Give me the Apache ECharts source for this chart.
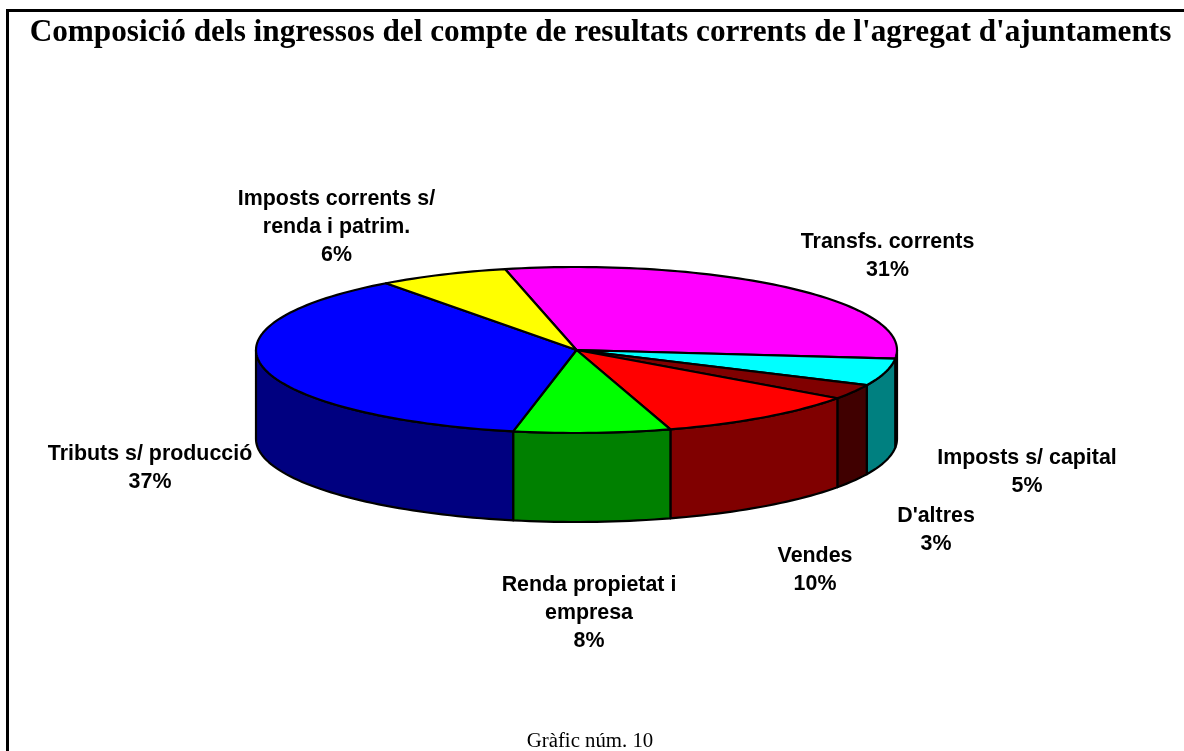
<!DOCTYPE html>
<html>
<head>
<meta charset="utf-8">
<script src="https://cdn.jsdelivr.net/npm/echarts@6/dist/echarts.min.js"></script>
<style>html,body{margin:0;padding:0;background:#fff}#chart{width:1184px;height:751px}</style>
</head>
<body>
<div id="chart"></div>
<script>
// Data
const titleText = "Composició dels ingressos del compte de resultats corrents de l'agregat d'ajuntaments";
const footerText = "Gràfic núm. 10";
const categories = ["Transfs. corrents", "Imposts s/ capital", "D'altres", "Vendes", "Renda propietat i\nempresa", "Tributs s/ producció", "Imposts corrents s/\nrenda i patrim."];
// Printed percentages
const percentLabels = [31, 5, 3, 10, 8, 37, 6];
// Share of the pie each slice occupies as drawn (estimated from the slice boundaries)
const sliceShares = [30.25, 5.3, 2.9, 10.4, 7.9, 36.7, 6.55];

// Styles and layout, kept apart from the data
const topColors = ["#ff00ff", "#00ffff", "#800000", "#ff0000", "#00ff00", "#0000ff", "#ffff00"];
const wallColors = ["#800080", "#008080", "#400000", "#800000", "#008000", "#000080", "#808000"];
const labelCentres = [[887.5, 256], [1027, 472], [936, 530], [815, 570], [589, 613], [150, 468], [336.5, 227]];
const pie = { cx: 576.5, cy: 350, rx: 320.5, ry: 83, depth: 89, startAngle: 102.9 };

const total = sliceShares.reduce((a, b) => a + b, 0);
const boundaries = [pie.startAngle];
sliceShares.forEach((v, i) => boundaries.push(boundaries[i] - v / total * 360));

function rimPoint(deg, dy) {
  const t = deg * Math.PI / 180;
  return [pie.cx + pie.rx * Math.cos(t), pie.cy - pie.ry * Math.sin(t) + (dy || 0)];
}
function arcPoints(from, to, dy) {
  const pts = [], n = Math.max(2, Math.ceil(Math.abs(from - to) / 1.5));
  for (let k = 0; k <= n; k++) pts.push(rimPoint(from + (to - from) * k / n, dy));
  return pts;
}
function wallRange(a0, a1) {
  const hi = Math.min(a0, 0), lo = Math.max(a1, -180);
  return hi > lo ? [hi, lo] : null;
}

function renderSlice(params, api) {
  const i = params.dataIndex;
  const a0 = boundaries[i], a1 = boundaries[i + 1];
  const children = [];
  const line = { stroke: "#000", lineWidth: 2.2, lineJoin: "round" };
  const wall = wallRange(a0, a1);
  if (wall) {
    const top = arcPoints(wall[0], wall[1], 0);
    const bottom = arcPoints(wall[1], wall[0], pie.depth);
    children.push({
      type: "polygon", z2: 1,
      shape: { points: top.concat(bottom) },
      style: Object.assign({ fill: wallColors[i] }, line)
    });
  }
  children.push({
    type: "polygon", z2: 2,
    shape: { points: [[pie.cx, pie.cy]].concat(arcPoints(a0, a1, 0)) },
    style: Object.assign({ fill: topColors[i] }, line)
  });
  children.push({
    type: "text", z2: 3,
    style: {
      x: labelCentres[i][0], y: labelCentres[i][1],
      text: categories[i] + "\n" + percentLabels[i] + "%",
      align: "center", verticalAlign: "middle",
      font: 'bold 21.4px "Liberation Sans", Arial, sans-serif',
      lineHeight: 28, fill: "#000"
    }
  });
  return { type: "group", children: children };
}

const chart = echarts.init(document.getElementById("chart"), null, { renderer: "canvas" });
chart.setOption({
  animation: false,
  backgroundColor: "#fff",
  title: [
    {
      text: titleText, left: 595.5, top: 12, textAlign: "center",
      textStyle: { fontFamily: '"Liberation Serif", "Times New Roman", serif', fontWeight: "bold", fontSize: 31.25, color: "#000" }
    },
    {
      text: footerText, left: 585, top: 726, textAlign: "center",
      textStyle: { fontFamily: '"Liberation Serif", "Times New Roman", serif', fontWeight: "normal", fontSize: 20.8, color: "#000" }
    }
  ],
  graphic: [
    { type: "line", shape: { x1: 6, y1: 10.5, x2: 1184, y2: 10.5 }, style: { stroke: "#000", lineWidth: 3 } },
    { type: "line", shape: { x1: 7.5, y1: 9, x2: 7.5, y2: 751 }, style: { stroke: "#000", lineWidth: 3 } }
  ],
  series: [{
    type: "custom",
    coordinateSystem: "none",
    renderItem: renderSlice,
    silent: true,
    data: sliceShares.map((v, i) => ({ name: categories[i], value: v }))
  }]
});
</script>
</body>
</html>
